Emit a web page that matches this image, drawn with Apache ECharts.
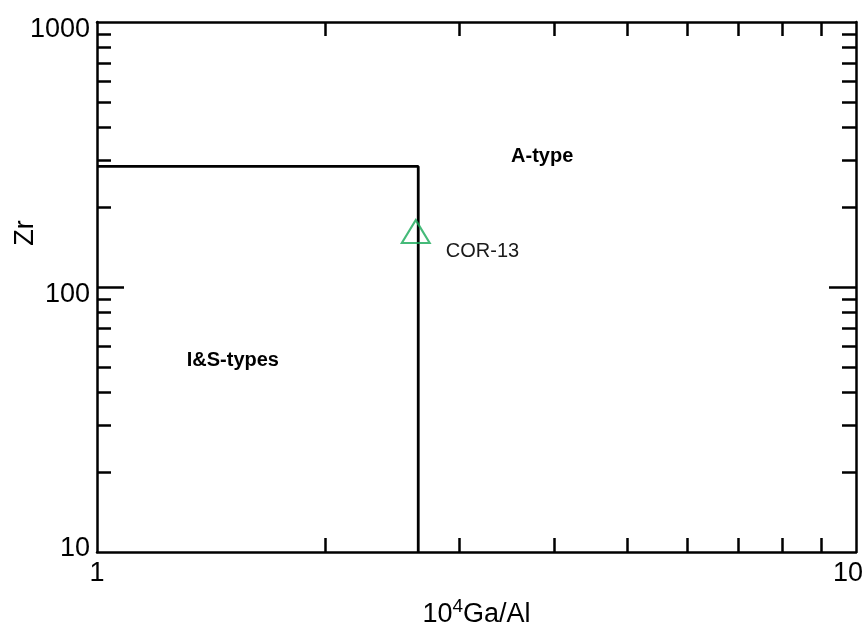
<!DOCTYPE html>
<html>
<head>
<meta charset="utf-8">
<script src="https://cdn.jsdelivr.net/npm/echarts@6/dist/echarts.min.js"></script>
<style>
  html, body { margin: 0; padding: 0; background: #ffffff; }
  #chart { width: 868px; height: 629px; }
</style>
</head>
<body>
<div id="chart"></div>
<script>
// Axis labels and tick positions (log scales)
const xLabelValues = [1, 10];
const yLabelValues = [10, 100, 1000];
const xMinorTicks = [2, 3, 4, 5, 6, 7, 8, 9];
const yMinorTicks = [20, 30, 40, 50, 60, 70, 80, 90, 200, 300, 400, 500, 600, 700, 800, 900];
const yMajorTicks = [100];

// Field boundary between I&S-type and A-type granites
const boundaryGaAl = [1, 2.65, 2.65];
const boundaryZr = [285, 285, 10];

// Sample
const sampleNames = ['COR-13'];
const sampleGaAl = [2.63];
const sampleZr = [162];

// Field names and where they sit
const fieldNames = ['A-type', 'I&S-types'];
const fieldGaAl = [3.86, 1.51];
const fieldZr = [312, 52.6];

const FONT = "'Liberation Sans', Arial, sans-serif";
const INK = '#000000';
const GREEN = '#17a957';
const LW = 2.5;

const chart = echarts.init(document.getElementById('chart'), null, { renderer: 'canvas' });

const grid = { left: 97, right: 12, top: 22, bottom: 77, containLabel: false, outerBoundsMode: 'none' };

function logX(extra) {
  return Object.assign({
    type: 'log', logBase: 10, min: 1, max: 10, gridIndex: 0,
    splitLine: { show: false },
    axisLine: { show: true, onZero: false, lineStyle: { color: INK, width: LW } },
    axisTick: { show: true, inside: true, length: 14, customValues: xMinorTicks, lineStyle: { color: INK, width: LW } },
    axisLabel: { show: false }
  }, extra);
}

function logY(extra) {
  return Object.assign({
    type: 'log', logBase: 10, min: 10, max: 1000, gridIndex: 0,
    splitLine: { show: false },
    axisLine: { show: true, onZero: false, lineStyle: { color: INK, width: LW } },
    axisTick: { show: true, inside: true, length: 14, customValues: yMinorTicks, lineStyle: { color: INK, width: LW } },
    axisLabel: { show: false }
  }, extra);
}

const option = {
  backgroundColor: '#ffffff',
  animation: false,
  grid: grid,
  xAxis: [
    logX({
      position: 'bottom',
      name: '{n|10}{s|4}{n|Ga/Al}',
      nameLocation: 'middle',
      nameGap: 45,
      nameMoveOverlap: false,
      nameTextStyle: {
        rich: {
          n: { fontFamily: FONT, fontSize: 27, color: INK },
          s: { fontFamily: FONT, fontSize: 19, color: INK, padding: [0, 0, 16, 0] }
        }
      },
      axisLabel: {
        show: true, customValues: xLabelValues, margin: 8,
        fontFamily: FONT, fontSize: 27, color: INK,
        formatter: function (v) { return v >= 10 ? '{e|' + v + '}' : String(v); },
        rich: { e: { fontFamily: FONT, fontSize: 27, color: INK, padding: [0, 16, 0, 0] } }
      }
    }),
    logX({ position: 'top' })
  ],
  yAxis: [
    logY({
      position: 'left',
      name: 'Zr',
      nameLocation: 'middle',
      nameGap: 58,
      nameRotate: 90,
      nameMoveOverlap: false,
      nameTextStyle: { fontFamily: FONT, fontSize: 27, color: INK, padding: [0, 0, 0, 108] },
      axisLabel: {
        show: true, customValues: yLabelValues, margin: 7,
        fontFamily: FONT, fontSize: 27, color: INK,
        formatter: function (v) {
          if (v <= 10) return '{up|' + v + '}';
          return '{dn|' + v + '}';
        },
        rich: {
          up: { fontFamily: FONT, fontSize: 27, color: INK, padding: [0, 0, 7, 0] },
          dn: { fontFamily: FONT, fontSize: 27, color: INK, padding: [15, 0, 0, 0] }
        }
      }
    }),
    logY({ position: 'right' }),
    logY({
      position: 'left',
      axisLine: { show: false },
      axisTick: { show: true, inside: true, length: 27, customValues: yMajorTicks, lineStyle: { color: INK, width: LW } }
    }),
    logY({
      position: 'right',
      axisLine: { show: false },
      axisTick: { show: true, inside: true, length: 27, customValues: yMajorTicks, lineStyle: { color: INK, width: LW } }
    })
  ],
  series: [
    {
      type: 'line',
      name: 'boundary',
      xAxisIndex: 0, yAxisIndex: 0,
      data: boundaryGaAl.map((x, i) => [x, boundaryZr[i]]),
      showSymbol: false,
      symbol: 'none',
      lineStyle: { color: INK, width: 2.8 },
      silent: true,
      z: 3
    },
    {
      type: 'scatter',
      name: 'fields',
      xAxisIndex: 0, yAxisIndex: 0,
      data: fieldNames.map((n, i) => ({ name: n, value: [fieldGaAl[i], fieldZr[i]] })),
      symbol: 'circle',
      symbolSize: 1,
      itemStyle: { color: 'rgba(0,0,0,0)' },
      label: {
        show: true,
        position: 'inside',
        formatter: '{b}',
        fontFamily: FONT, fontSize: 20, fontWeight: 'bold', color: INK, opacity: 1
      },
      silent: true,
      z: 4
    },
    {
      type: 'scatter',
      name: 'samples',
      xAxisIndex: 0, yAxisIndex: 0,
      data: sampleNames.map((n, i) => ({ name: n, value: [sampleGaAl[i], sampleZr[i]] })),
      symbol: 'triangle',
      symbolSize: [28, 23],
      itemStyle: { color: 'rgba(0,0,0,0)', borderColor: GREEN, borderWidth: 2 },
      label: {
        show: true,
        position: 'right',
        distance: 5,
        offset: [10, 20],
        formatter: '{b}',
        fontFamily: FONT, fontSize: 20, color: '#1a1a1a', opacity: 1
      },
      z: 5
    }
  ]
};

chart.setOption(option);
</script>
</body>
</html>
